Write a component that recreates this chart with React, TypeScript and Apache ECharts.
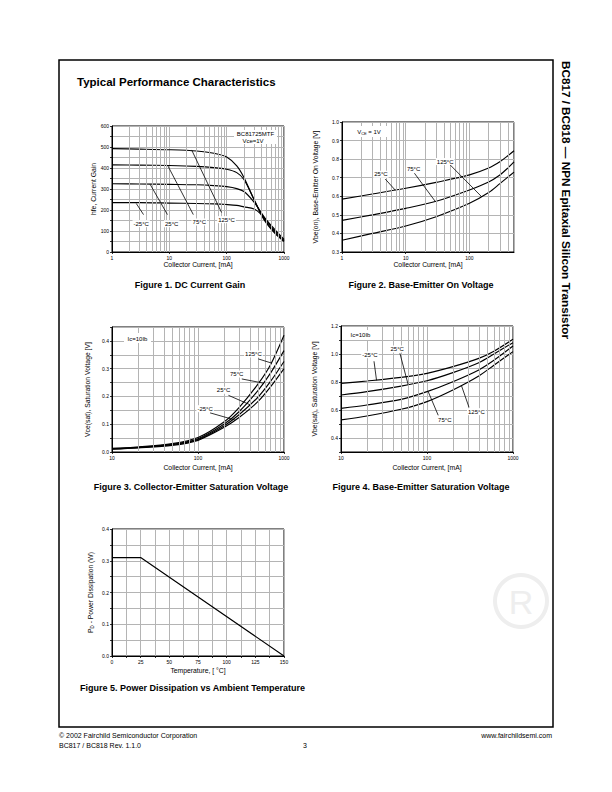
import React, { useEffect, useRef } from 'react';
import * as echarts from 'echarts';

const FONT = '"Liberation Sans", Arial, Helvetica, sans-serif';
const GRID_GREY = '#b4b4b4';

// ---------- Figure 1: DC current gain ----------
const f1Current = [1, 3, 10, 30, 60, 100, 150, 200, 300, 400, 500, 700, 1000];
const f1Gain125 = [492, 490, 487, 481, 470, 452, 410, 355, 250, 178, 135, 88, 50];
const f1Gain75 = [415, 414, 412, 408, 402, 394, 378, 345, 250, 182, 140, 92, 52];
const f1Gain25 = [325, 324, 322, 320, 316, 311, 302, 288, 238, 188, 148, 98, 55];
const f1GainM25 = [235, 235, 233, 231, 229, 226, 222, 215, 205, 180, 150, 105, 60];
const f1Labels: [string, number, number][] = [
  ['-25°C', 3.23, 135], ['25°C', 11, 135], ['75°C', 33.3, 143], ['125°C', 99.5, 154],
];
const f1Leaders = [
  [2.65, 231, 3.55, 178], [4.63, 322, 9.27, 178], [9.27, 414, 26.2, 178], [24.5, 486, 81.5, 188],
];

// ---------- Figure 2: Base-emitter on voltage ----------
const f2Current = [1, 3, 10, 30, 100, 200, 300, 400, 500];
const f2Vbe25 = [0.585, 0.612, 0.643, 0.675, 0.715, 0.752, 0.786, 0.818, 0.845];
const f2Vbe75 = [0.47, 0.5, 0.535, 0.573, 0.634, 0.677, 0.715, 0.752, 0.785];
const f2Vbe125 = [0.363, 0.4, 0.44, 0.49, 0.562, 0.62, 0.668, 0.703, 0.73];
const f2Labels: [string, number, number][] = [
  ['25°C', 4.08, 0.719], ['75°C', 13.3, 0.748], ['125°C', 41.6, 0.787],
];
const f2Leaders = [
  [4.77, 0.693, 6.85, 0.633], [13.7, 0.724, 29, 0.573], [49.8, 0.769, 156, 0.597],
];

// ---------- Figure 3: Collector-emitter saturation voltage ----------
const f3Current = [10, 20, 50, 100, 200, 300, 500, 700, 1000];
const f3Vce125 = [0.013, 0.018, 0.03, 0.052, 0.108, 0.16, 0.245, 0.315, 0.42];
const f3Vce75 = [0.012, 0.017, 0.028, 0.048, 0.1, 0.145, 0.222, 0.285, 0.365];
const f3Vce25 = [0.011, 0.016, 0.026, 0.045, 0.094, 0.134, 0.198, 0.255, 0.326];
const f3VceM25 = [0.01, 0.015, 0.024, 0.042, 0.088, 0.124, 0.182, 0.235, 0.3];
const f3Labels: [string, number, number][] = [
  ['125°C', 441, 0.353], ['75°C', 282, 0.281], ['25°C', 198, 0.222], ['-25°C', 121, 0.156],
];
const f3Leaders = [
  [503, 0.335, 719, 0.32], [323, 0.263, 575, 0.248], [226, 0.204, 403, 0.17], [138, 0.141, 270, 0.115],
];

// ---------- Figure 4: Base-emitter saturation voltage ----------
const f4Current = [10, 20, 50, 100, 200, 400, 600, 1000];
const f4VbeM25 = [0.79, 0.807, 0.833, 0.862, 0.91, 0.969, 1.02, 1.105];
const f4Vbe25 = [0.707, 0.731, 0.771, 0.809, 0.867, 0.938, 1.0, 1.081];
const f4Vbe75 = [0.612, 0.636, 0.676, 0.731, 0.802, 0.886, 0.955, 1.057];
const f4Vbe125 = [0.529, 0.557, 0.605, 0.66, 0.743, 0.843, 0.92, 1.017];
const f4Labels: [string, number, number][] = [
  ['-25°C', 21.7, 0.995], ['25°C', 45, 1.036], ['75°C', 161, 0.526], ['125°C', 375, 0.588],
];
const f4Leaders = [
  [24.2, 0.948, 25.9, 0.812], [48.4, 1.005, 60.4, 0.781], [135, 0.562, 103, 0.733], [308, 0.619, 251, 0.776],
];

// ---------- Figure 5: Power dissipation ----------
const f5Temp = [0, 25, 150];
const f5Power = [0.31, 0.31, 0];

const grids = [
  { left: 112, top: 126, width: 172, height: 126 },
  { left: 342, top: 122, width: 172, height: 130 },
  { left: 112, top: 327, width: 172, height: 125 },
  { left: 341, top: 326, width: 172, height: 126 },
  { left: 112, top: 529, width: 172, height: 127 },
];

const nameStyle = { fontFamily: FONT, fontSize: 6.8, color: '#000' };
const tickLabel = { fontFamily: FONT, fontSize: 5, color: '#000', margin: 3 };

function logX(gridIndex: number, min: number, max: number, nameGap: number, showMax = true) {
  return {
    type: 'log', logBase: 10, gridIndex, min, max,
    name: 'Collector Current, [mA]', nameLocation: 'middle', nameGap,
    nameTextStyle: nameStyle,
    axisLine: { show: true, onZero: false, lineStyle: { color: '#000', width: 1 } },
    axisTick: { show: true, inside: false, length: 2, lineStyle: { color: '#000', width: 0.8 } },
    axisLabel: { ...tickLabel, showMaxLabel: showMax, formatter: (v: number) => String(Math.round(v)) },
    splitLine: { show: true, lineStyle: { color: GRID_GREY, width: 1 } },
  };
}

function valAxis(
  gridIndex: number, min: number, max: number, interval: number, labelEvery: number,
  decimals: number, name: string, nameGap: number, rich?: any,
) {
  return {
    type: 'value', gridIndex, min, max, interval,
    name, nameLocation: 'middle', nameGap,
    nameTextStyle: rich ? { ...nameStyle, rich } : nameStyle,
    axisLine: { show: true, onZero: false, lineStyle: { color: '#000', width: 1 } },
    axisTick: { show: true, length: 2, lineStyle: { color: '#000', width: 0.8 } },
    axisLabel: {
      ...tickLabel,
      formatter: (v: number) => {
        const r = v / labelEvery;
        return Math.abs(r - Math.round(r)) < 1e-6 ? v.toFixed(decimals) : '';
      },
    },
    splitLine: { show: true, lineStyle: { color: GRID_GREY, width: 1 } },
  };
}

function logMinorValues(min: number, max: number) {
  const out: number[] = [];
  for (let d = min; d < max; d *= 10) {
    for (let k = 2; k <= 9; k++) {
      const v = d * k;
      if (v < max) out.push(v);
    }
  }
  return out;
}

function curve(idx: number, xs: number[], ys: number[], smooth: number | boolean = 0.3) {
  return {
    type: 'line', xAxisIndex: idx, yAxisIndex: idx, silent: true, z: 3,
    data: xs.map((x, i) => [x, ys[i]]),
    symbol: 'none', smooth,
    lineStyle: { color: '#000', width: 1.15 },
  };
}

function minorGrid(idx: number, min: number, max: number) {
  return {
    type: 'line', xAxisIndex: idx, yAxisIndex: idx, silent: true, z: 1, data: [],
    markLine: {
      silent: true, symbol: ['none', 'none'], label: { show: false }, animation: false,
      lineStyle: { color: GRID_GREY, width: 1, type: 'solid' },
      emphasis: { disabled: true },
      data: logMinorValues(min, max).map((v) => ({ xAxis: v })),
    },
  };
}

function annotations(idx: number, labels: [string, number, number][], leaders: number[][]) {
  return {
    type: 'line', xAxisIndex: idx, yAxisIndex: idx, silent: true, z: 5, data: [],
    markLine: {
      silent: true, symbol: ['none', 'none'], label: { show: false }, animation: false,
      lineStyle: { color: '#000', width: 0.8, type: 'solid' },
      emphasis: { disabled: true },
      data: leaders.map((l) => [{ coord: [l[0], l[1]] }, { coord: [l[2], l[3]] }]),
    },
    markPoint: {
      silent: true, symbol: 'circle', symbolSize: 0, animation: false,
      itemStyle: { color: 'transparent' },
      label: {
        show: true, position: 'inside', fontFamily: FONT, fontSize: 6, color: '#000',
        backgroundColor: '#fff', padding: [1, 1, 0, 1],
      },
      data: labels.map((l) => ({ coord: [l[1], l[2]], value: l[0], label: { formatter: l[0] } })),
    },
  };
}

function txt(text: string, x: number, y: number, size: number, opts: any = {}) {
  const align = opts.align || 'left';
  return {
    type: 'text', x, y, silent: true, z: 20, rotation: opts.rot || 0,
    style: {
      text, fill: opts.fill || '#000', fontFamily: FONT, fontSize: size,
      fontWeight: opts.bold ? 'bold' : 'normal',
      align, textAlign: align, verticalAlign: 'middle', textVerticalAlign: 'middle',
      rich: opts.rich,
    },
  };
}

function whiteBox(x: number, y: number, w: number, h: number) {
  return { type: 'rect', silent: true, z: 19, shape: { x, y, width: w, height: h }, style: { fill: '#fff' } };
}

function buildOption() {
  const subRich = {
    a: { fontFamily: FONT, fontSize: 6, color: '#000' },
    b: { fontFamily: FONT, fontSize: 4, color: '#000', padding: [4, 0, 0, 0] },
  };
  const pdRich = {
    a: { fontFamily: FONT, fontSize: 6.8, color: '#000' },
    b: { fontFamily: FONT, fontSize: 4.5, color: '#000', padding: [4, 0, 0, 0] },
  };
  return {
    animation: false,
    backgroundColor: '#fff',
    grid: grids.map((g) => ({ ...g, show: true, borderColor: '#000', borderWidth: 1, backgroundColor: 'transparent' })),
    xAxis: [
      logX(0, 1, 1000, 9),
      logX(1, 1, 500, 9, false),
      logX(2, 10, 1000, 12),
      logX(3, 10, 1000, 12),
      valAxis(4, 0, 150, 12.5, 25, 0, 'Temperature, [ °C]', 11),
    ],
    yAxis: [
      valAxis(0, 0, 600, 50, 100, 0, 'hfe, Current Gain', 14),
      valAxis(1, 0.3, 1.0, 0.1, 0.1, 1, 'Vbe(on), Base-Emitter On Voltage [V]', 23),
      valAxis(2, 0, 0.45, 0.05, 0.1, 1, 'Vce(sat), Saturation Voltage [V]', 21),
      valAxis(3, 0.3, 1.2, 0.1, 0.2, 1, 'Vbe(sat), Saturation Voltage [V]', 23),
      valAxis(4, 0, 0.4, 0.05, 0.1, 1, '{a|P}{b|D}{a| - Power Dissipation (W)}', 17, pdRich),
    ],
    series: [
      minorGrid(0, 1, 1000),
      minorGrid(1, 1, 500),
      minorGrid(2, 10, 1000),
      minorGrid(3, 10, 1000),
      curve(0, f1Current, f1Gain125),
      curve(0, f1Current, f1Gain75),
      curve(0, f1Current, f1Gain25),
      curve(0, f1Current, f1GainM25),
      annotations(0, f1Labels, f1Leaders),
      curve(1, f2Current, f2Vbe25),
      curve(1, f2Current, f2Vbe75),
      curve(1, f2Current, f2Vbe125),
      annotations(1, f2Labels, f2Leaders),
      curve(2, f3Current, f3Vce125),
      curve(2, f3Current, f3Vce75),
      curve(2, f3Current, f3Vce25),
      curve(2, f3Current, f3VceM25),
      annotations(2, f3Labels, f3Leaders),
      curve(3, f4Current, f4VbeM25),
      curve(3, f4Current, f4Vbe25),
      curve(3, f4Current, f4Vbe75),
      curve(3, f4Current, f4Vbe125),
      annotations(3, f4Labels, f4Leaders),
      curve(4, f5Temp, f5Power, false),
    ],
    graphic: [
      {
        type: 'rect', silent: true, z: 0,
        shape: { x: 59, y: 60, width: 494, height: 667 },
        style: { fill: 'none', stroke: '#000', lineWidth: 1.5 },
      },
      {
        type: 'ring', silent: true, z: 0,
        shape: { cx: 521, cy: 601, r: 28, r0: 24 },
        style: { fill: '#eeeeee' },
      },
      txt('R', 521, 602, 34, { align: 'center', fill: '#eeeeee' }),
      txt('Typical Performance Characteristics', 77, 82, 11.5, { bold: true }),
      txt('BC817 / BC818 — NPN Epitaxial Silicon Transistor', 566, 61, 11.7, { bold: true, rot: -Math.PI / 2 }),
      whiteBox(234, 130, 43, 14),
      txt('BC81725MTF', 255.5, 134, 6, { align: 'center' }),
      txt('Vce=1V', 253, 140.5, 6, { align: 'center' }),
      whiteBox(348, 126, 42, 11),
      txt('{a|V}{b|CE}{a| = 1V}', 369, 131.5, 6, { align: 'center', rich: subRich }),
      whiteBox(124, 333, 27, 10),
      txt('Ic=10Ib', 137.5, 338.5, 6, { align: 'center' }),
      whiteBox(347, 330, 27, 10),
      txt('Ic=10Ib', 360.5, 335, 6, { align: 'center' }),
      txt('Figure 1. DC Current Gain', 190, 285, 9, { bold: true, align: 'center' }),
      txt('Figure 2. Base-Emitter On Voltage', 421, 285, 9, { bold: true, align: 'center' }),
      txt('Figure 3. Collector-Emitter Saturation Voltage', 191, 487, 9, { bold: true, align: 'center' }),
      txt('Figure 4. Base-Emitter Saturation Voltage', 421, 487, 9, { bold: true, align: 'center' }),
      txt('Figure 5. Power Dissipation vs Ambient Temperature', 80, 688, 9, { bold: true }),
      txt('© 2002 Fairchild Semiconductor Corporation', 59, 735, 7),
      txt('BC817 / BC818 Rev. 1.1.0', 59, 745, 7),
      txt('3', 305, 745, 7, { align: 'center' }),
      txt('www.fairchildsemi.com', 552, 735, 7, { align: 'right' }),
    ],
  };
}

export default function App() {
  const ref = useRef<HTMLDivElement>(null);
  useEffect(() => {
    if (!ref.current) return;
    const chart = echarts.init(ref.current, null, { renderer: 'svg' });
    chart.setOption(buildOption() as any);
    return () => chart.dispose();
  }, []);
  return (
    <div
      ref={ref}
      style={{ position: 'fixed', left: 0, top: 0, width: 612, height: 792, background: '#fff' }}
    />
  );
}
